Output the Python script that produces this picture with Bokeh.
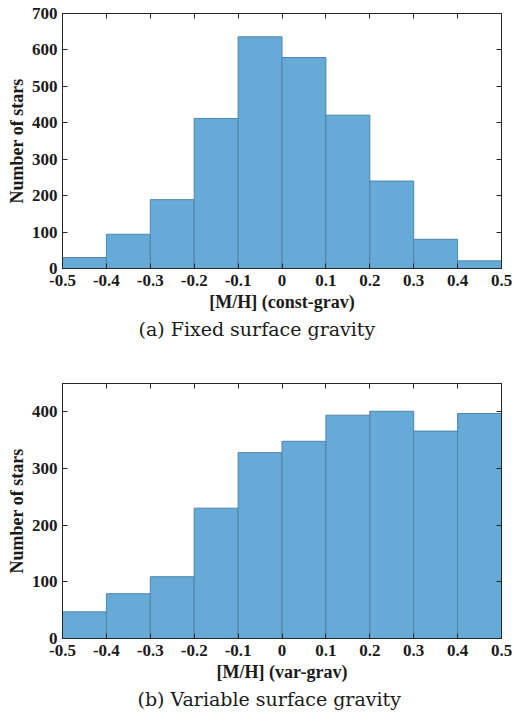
from bokeh.plotting import figure
from bokeh.layouts import column
from bokeh.models import LinearAxis, FixedTicker, Range1d
from bokeh.embed import file_html
from bokeh.resources import INLINE

bin_edges = [-0.5, -0.4, -0.3, -0.2, -0.1, 0.0, 0.1, 0.2, 0.3, 0.4, 0.5]
counts_const = [30, 94, 189, 412, 636, 579, 421, 240, 80, 21]
counts_var = [47, 79, 109, 230, 328, 348, 394, 401, 366, 397]
x_ticks = [-0.5, -0.4, -0.3, -0.2, -0.1, 0.0, 0.1, 0.2, 0.3, 0.4, 0.5]
x_tick_labels = ["-0.5", "-0.4", "-0.3", "-0.2", "-0.1", "0", "0.1", "0.2", "0.3", "0.4", "0.5"]
y_ticks_const = [0, 100, 200, 300, 400, 500, 600, 700]
y_ticks_var = [0, 100, 200, 300, 400]

FONT = "Liberation Serif"
FILL = "#66aad8"
EDGE = "#4f84aa"
AXC = "#262626"


def style_axis(ax, ticks, show_labels=True):
    ax.ticker = FixedTicker(ticks=ticks)
    ax.major_tick_in = 5
    ax.major_tick_out = 0
    ax.minor_tick_line_color = None
    ax.axis_line_color = AXC
    ax.major_tick_line_color = AXC
    ax.major_label_text_font = FONT
    ax.major_label_text_font_style = "bold"
    ax.major_label_text_font_size = "17px"
    ax.major_label_text_color = "#1a1a1a"
    ax.axis_label_text_font = FONT
    ax.axis_label_text_font_style = "bold"
    ax.axis_label_text_font_size = "18px"
    ax.axis_label_text_color = "#1a1a1a"
    if not show_labels:
        ax.major_label_text_font_size = "0px"
        ax.major_label_text_alpha = 0


def make_panel(counts, ymax, yticks, xlabel, caption, top_border, bottom_border, cap_offset):
    p = figure(
        frame_width=439,
        frame_height=255,
        min_border_left=62,
        min_border_right=13,
        min_border_top=top_border,
        min_border_bottom=bottom_border,
        x_range=Range1d(-0.5, 0.5),
        y_range=Range1d(0, ymax),
        output_backend="svg",
        toolbar_location=None,
        title=caption,
        title_location="below",
    )
    p.title.align = "left"
    p.title.text_font = "DejaVu Serif"
    p.title.text_font_style = "normal"
    p.title.text_font_size = "19px"
    p.title.text_color = "#1a1a1a"
    p.title.standoff = 2
    p.title.offset = cap_offset
    p.xgrid.grid_line_color = None
    p.ygrid.grid_line_color = None
    p.outline_line_color = AXC
    p.outline_line_width = 1
    p.background_fill_color = "white"
    p.border_fill_color = "white"

    p.quad(left=bin_edges[:-1], right=bin_edges[1:], bottom=0, top=counts,
           fill_color=FILL, line_color=EDGE, line_width=1)

    xa = p.xaxis[0]
    style_axis(xa, x_ticks)
    xa.major_label_overrides = {t: l for t, l in zip(x_ticks, x_tick_labels)}
    xa.axis_label = xlabel
    xa.major_label_standoff = 6
    xa.axis_label_standoff = 3

    ya = p.yaxis[0]
    style_axis(ya, yticks)
    ya.axis_label = "Number of stars"
    ya.major_label_standoff = 5
    ya.axis_label_standoff = 2

    top_ax = LinearAxis()
    style_axis(top_ax, x_ticks, show_labels=False)
    p.add_layout(top_ax, "above")
    right_ax = LinearAxis()
    style_axis(right_ax, yticks, show_labels=False)
    p.add_layout(right_ax, "right")
    return p


p1 = make_panel(counts_const, 700, y_ticks_const, "[M/H] (const-grav)",
                "(a) Fixed surface gravity", 13, 102, 76)
p2 = make_panel(counts_var, 450, y_ticks_var, "[M/H] (var-grav)",
                "(b) Variable surface gravity", 13, 78, 75)

layout = column(p1, p2, spacing=0)
open("out.html", "w").write(file_html(layout, INLINE))
